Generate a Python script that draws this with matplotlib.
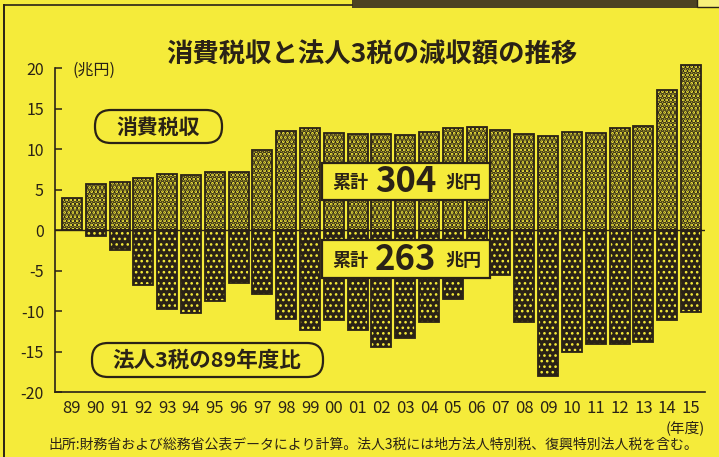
import matplotlib
matplotlib.use('Agg')
import matplotlib.pyplot as plt
from matplotlib.transforms import Affine2D
from matplotlib.patches import Rectangle, FancyBboxPatch
from matplotlib.lines import Line2D
import numpy as np

# ---- data (trillion yen) ----
years = ['89', '90', '91', '92', '93', '94', '95', '96', '97', '98', '99', '00', '01',
         '02', '03', '04', '05', '06', '07', '08', '09', '10', '11', '12', '13', '14', '15']
consumption_tax = [3.9, 5.7, 5.9, 6.4, 6.9, 6.8, 7.1, 7.2, 9.9, 12.2, 12.6, 12.0, 11.8,
                   11.8, 11.7, 12.1, 12.6, 12.7, 12.4, 11.8, 11.6, 12.1, 12.0, 12.6, 12.8, 17.3, 20.4]
corporate_vs_89 = [0.0, -0.7, -2.5, -6.8, -9.8, -10.2, -8.8, -6.6, -7.9, -11.0, -12.4, -11.1, -12.3,
                   -14.4, -13.3, -11.3, -8.5, -3.5, -5.6, -11.4, -18.0, -15.0, -14.1, -14.1, -13.8, -11.1, -10.1]
yticks = [-20, -15, -10, -5, 0, 5, 10, 15, 20]

title = '消費税収と法人3税の減収額の推移'
unit_label = '(兆円)'
label_pos = '消費税収'
label_neg = '法人3税の89年度比'
total_pos = '304'
total_neg = '263'
xunit = '(年度)'
footer = '出所:財務省および総務省公表データにより計算。法人3税には地方法人特別税、復興特別法人税を含む。'

BG = '#f5eb3a'
INK = '#2a2216'

plt.rcParams['font.family'] = ['Noto Sans CJK JP', 'DejaVu Sans']

W, H = 719, 457
fig = plt.figure(figsize=(W / 100, H / 100), dpi=100, facecolor=BG)
px = Affine2D().scale(1 / W, -1 / H).translate(0, 1) + fig.transFigure

# axes: left spine at x=55px, value -20 at y=392px, value 20 at y=68px
ppu = (392 - 68) / 40.0
ytop = 21
ax_top_px = 392 - (ytop + 20) * ppu
ax = fig.add_axes([55 / W, 1 - 392 / H, (705 - 55) / W, (392 - ax_top_px) / H])
ax.set_facecolor('none')

x = np.arange(len(years))
bw = 0.84
ax.axhline(0, color=INK, lw=1.0, zorder=0.5)
with plt.rc_context({'hatch.linewidth': 2.6}):
    ax.bar(x, consumption_tax, width=bw, color=BG, edgecolor=INK, hatch='....', linewidth=0, zorder=2)
ax.bar(x, consumption_tax, width=bw, fill=False, edgecolor=INK, linewidth=1.3, zorder=3)
with plt.rc_context({'hatch.linewidth': 1.1}):
    ax.bar(x, corporate_vs_89, width=bw, color=INK, edgecolor=BG, hatch='...', linewidth=0, zorder=2)
ax.bar(x, corporate_vs_89, width=bw, fill=False, edgecolor=INK, linewidth=1.3, zorder=3)

ax.set_xlim(-0.71, len(years) - 1 + 0.59)
ax.set_ylim(-20, ytop)
for s in ['top', 'right']:
    ax.spines[s].set_visible(False)
ax.spines['left'].set_bounds(-20, 20)
for s in ['left', 'bottom']:
    ax.spines[s].set_color(INK)
    ax.spines[s].set_linewidth(1.2)

ax.set_yticks(yticks)
ax.set_yticklabels([str(v) for v in yticks])
ax.tick_params(axis='y', direction='in', length=5, width=1.1, color=INK,
               labelsize=11.5, labelcolor=INK, pad=8)
ax.set_xticks(x)
ax.set_xticklabels(years)
ax.tick_params(axis='x', length=0, labelsize=12, labelcolor=INK, pad=6)

# ---- frame decorations ----
fig.add_artist(Rectangle((352, 0), 345, 8, transform=px, fc='#4d4322', ec='none', zorder=1))
fig.add_artist(Rectangle((697, -2), 24, 9, transform=px, fc='#f8f07a', ec=INK, lw=1.0, zorder=1))
fig.add_artist(Line2D([4, 352], [5, 5], transform=px, color=INK, lw=1.2, zorder=1))
fig.add_artist(Line2D([4, 4], [5, H], transform=px, color=INK, lw=1.4, zorder=1))

# ---- texts ----
fig.text(372, 55, title, transform=px, ha='center', va='center', fontsize=19,
         fontweight='bold', color=INK)
fig.text(72, 70, unit_label, transform=px, ha='left', va='center', fontsize=11.5, color=INK)

# rounded labels
fig.add_artist(FancyBboxPatch((95, 110), 127, 33, boxstyle='round,pad=0,rounding_size=16',
                              transform=px, fc=BG, ec=INK, lw=1.6, zorder=4))
fig.text(158, 127, label_pos, transform=px, ha='center', va='center', fontsize=15,
         fontweight='bold', color=INK, zorder=5)
fig.add_artist(FancyBboxPatch((92, 343), 231, 34, boxstyle='round,pad=0,rounding_size=16',
                              transform=px, fc=BG, ec=INK, lw=1.6, zorder=4))
fig.text(207, 360, label_neg, transform=px, ha='center', va='center', fontsize=15.5,
         fontweight='bold', color=INK, zorder=5)

# cumulative boxes
for (y0, y1, num) in [(163, 200, total_pos), (240, 278, total_neg)]:
    fig.add_artist(Rectangle((322, y0), 168, y1 - y0, transform=px, fc=BG, ec=INK, lw=1.6, zorder=4))
    yc = (y0 + y1) / 2 + 1
    fig.text(350, yc, '累計', transform=px, ha='center', va='center', fontsize=13,
             fontweight='bold', color=INK, zorder=5)
    fig.text(406, yc - 1, num, transform=px, ha='center', va='center', fontsize=25,
             fontweight='bold', color=INK, zorder=5)
    fig.text(463, yc, '兆円', transform=px, ha='center', va='center', fontsize=13,
             fontweight='bold', color=INK, zorder=5)

fig.text(705, 428, xunit, transform=px, ha='right', va='center', fontsize=10.5, color=INK)
fig.text(48, 445, footer, transform=px, ha='left', va='center', fontsize=10, color=INK)

fig.savefig('out.png', dpi=100, facecolor=BG)
